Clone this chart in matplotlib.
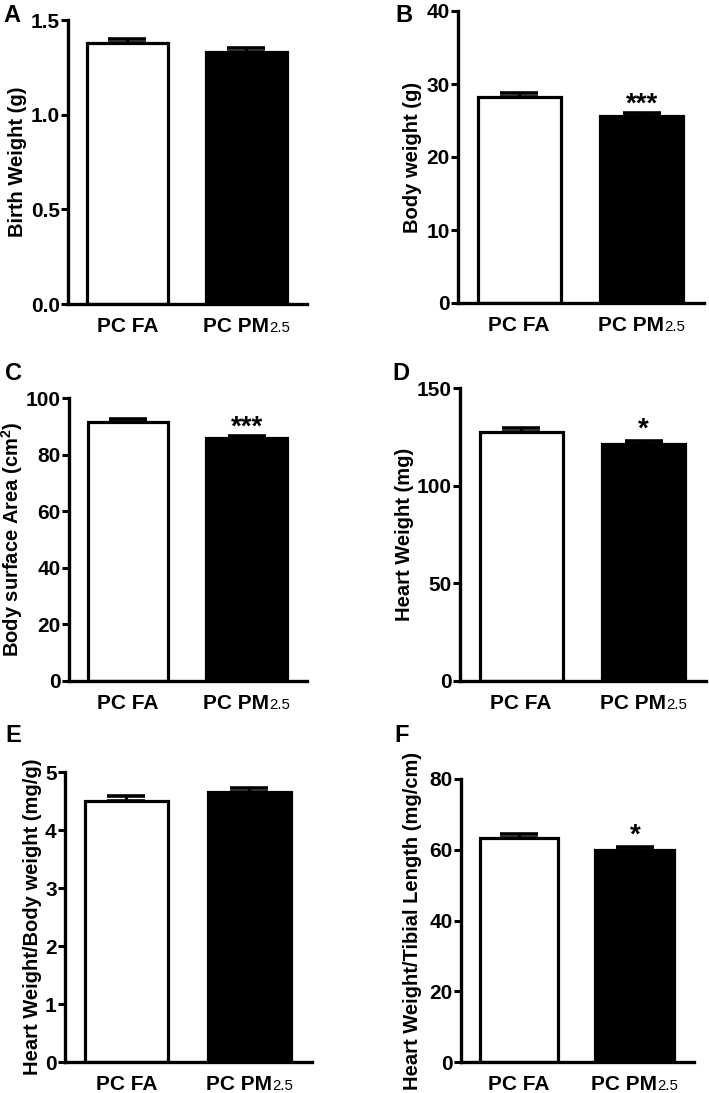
import matplotlib
matplotlib.use('Agg')
import matplotlib.pyplot as plt
from matplotlib.ticker import MultipleLocator, FormatStrFormatter

plt.rcParams['font.family'] = ['Liberation Sans', 'DejaVu Sans']
plt.rcParams['font.weight'] = 'bold'
plt.rcParams['mathtext.fontset'] = 'custom'
plt.rcParams['mathtext.rm'] = 'Liberation Sans'
plt.rcParams['mathtext.bf'] = 'Liberation Sans:bold'

# groups and values
groups = ['PC FA', 'PC PM']
group_subs = ['', '2.5']

birth_weight = [1.377, 1.331]
birth_weight_err = [0.023, 0.019]

body_weight = [28.2, 25.6]
body_weight_err = [0.6, 0.4]

surface_area = [91.5, 85.8]
surface_area_err = [1.1, 0.8]

heart_weight = [127.7, 121.5]
heart_weight_err = [2.0, 1.5]

hw_bw = [4.50, 4.655]
hw_bw_err = [0.09, 0.07]

hw_tl = [63.2, 59.8]
hw_tl_err = [1.2, 0.9]

stars = {'B': '***', 'C': '***', 'D': '*', 'F': '*'}

FS = 15

fig = plt.figure(figsize=(7.09, 10.93), dpi=100)
W, H = 709.0, 1093.0

def add_axes(left, right, top, bottom):
    return fig.add_axes([left / W, 1 - bottom / H, (right - left) / W, (bottom - top) / H])

# panel: letter, pixel box (left, right, top, bottom), values, errors, ylabel, ymax, step, fmt, letter pos, label right edge
panels = [
    ('A', (68, 307, 20, 304), birth_weight, birth_weight_err, 'Birth Weight (g)', 1.5, 0.5, '%.1f', (12, 15), 27),
    ('B', (458, 704, 11, 303), body_weight, body_weight_err, 'Body weight (g)', 40, 10, '%d', (404, 15), 422),
    ('C', (69, 307, 398, 681), surface_area, surface_area_err, r'Body surface Area (cm$^\mathbf{2}$)', 100, 20, '%d', (13, 373), 25),
    ('D', (460, 706, 388, 681), heart_weight, heart_weight_err, 'Heart Weight (mg)', 150, 50, '%d', (401, 373), 414),
    ('E', (65, 312, 772, 1062), hw_bw, hw_bw_err, 'Heart Weight/Body weight (mg/g)', 5, 1, '%d', (13, 735), 42),
    ('F', (461, 694, 779, 1062), hw_tl, hw_tl_err, 'Heart Weight/Tibial Length (mg/cm)', 80, 20, '%d', (402, 735), 422),
]

group_labels = []
for letter, box, vals, errs, ylabel, ymax, step, fmt, lpos, lab_right in panels:
    left, right, top, bottom = box
    ax = add_axes(left, right, top, bottom)
    x = [0, 1]
    ax.bar(x, vals, width=0.68, color=['white', 'black'], edgecolor='black', linewidth=2.3, zorder=2)
    for xi, v, e in zip(x, vals, errs):
        ax.errorbar(xi, v, yerr=[[0], [e]], fmt='none', ecolor='black', elinewidth=2.3,
                    capsize=14, capthick=2.6, zorder=3)
    if letter in stars:
        ax.annotate(stars[letter], xy=(1, vals[1] + errs[1]), xytext=(0, 1 if len(stars[letter]) > 1 else 3),
                    textcoords='offset points', ha='center', va='baseline', fontsize=20, fontweight='bold')
    ax.set_xlim(-0.5, 1.51)
    ax.set_ylim(0, ymax)
    ax.yaxis.set_major_locator(MultipleLocator(step))
    ax.yaxis.set_major_formatter(FormatStrFormatter(fmt))
    ax.set_xticks([])
    ax.tick_params(axis='y', direction='out', length=5, width=2.2, labelsize=FS, pad=1)
    for t in ax.get_yticklabels():
        t.set_fontweight('bold')
    for s in ['top', 'right']:
        ax.spines[s].set_visible(False)
    for s in ['left', 'bottom']:
        ax.spines[s].set_linewidth(2.4)
    ax.set_ylabel(ylabel, fontsize=14.5, fontweight='bold')
    ax.yaxis.set_label_coords((lab_right - left) / (right - left), 0.5)
    fig.text(lpos[0] / W, 1 - lpos[1] / H, letter, fontsize=17, fontweight='bold', ha='center', va='center')

    # group names under the bars, with the 2.5 set smaller on the same baseline
    for xi, name, sub in zip(x, groups, group_subs):
        main = ax.annotate(name, xy=(xi, 0), xycoords=('data', 'axes fraction'), xytext=(0, -20),
                           textcoords='offset points', ha='left', va='baseline', fontsize=FS, fontweight='bold')
        tail = ax.annotate(sub, xy=(xi, 0), xycoords=('data', 'axes fraction'), xytext=(0, -20),
                           textcoords='offset points', ha='left', va='baseline', fontsize=FS * 0.72,
                           fontweight='normal')
        group_labels.append((main, tail))

# centre each group name (plus subscript) on its bar
fig.canvas.draw()
renderer = fig.canvas.get_renderer()
px_to_pt = 72.0 / fig.dpi
for main, tail in group_labels:
    w1 = main.get_window_extent(renderer).width
    w2 = tail.get_window_extent(renderer).width if tail.get_text() else 0
    total = w1 + w2
    main.set_position((-total / 2 * px_to_pt, -20))
    tail.set_position(((-total / 2 + w1) * px_to_pt, -20))

fig.savefig('out.png', dpi=100)
